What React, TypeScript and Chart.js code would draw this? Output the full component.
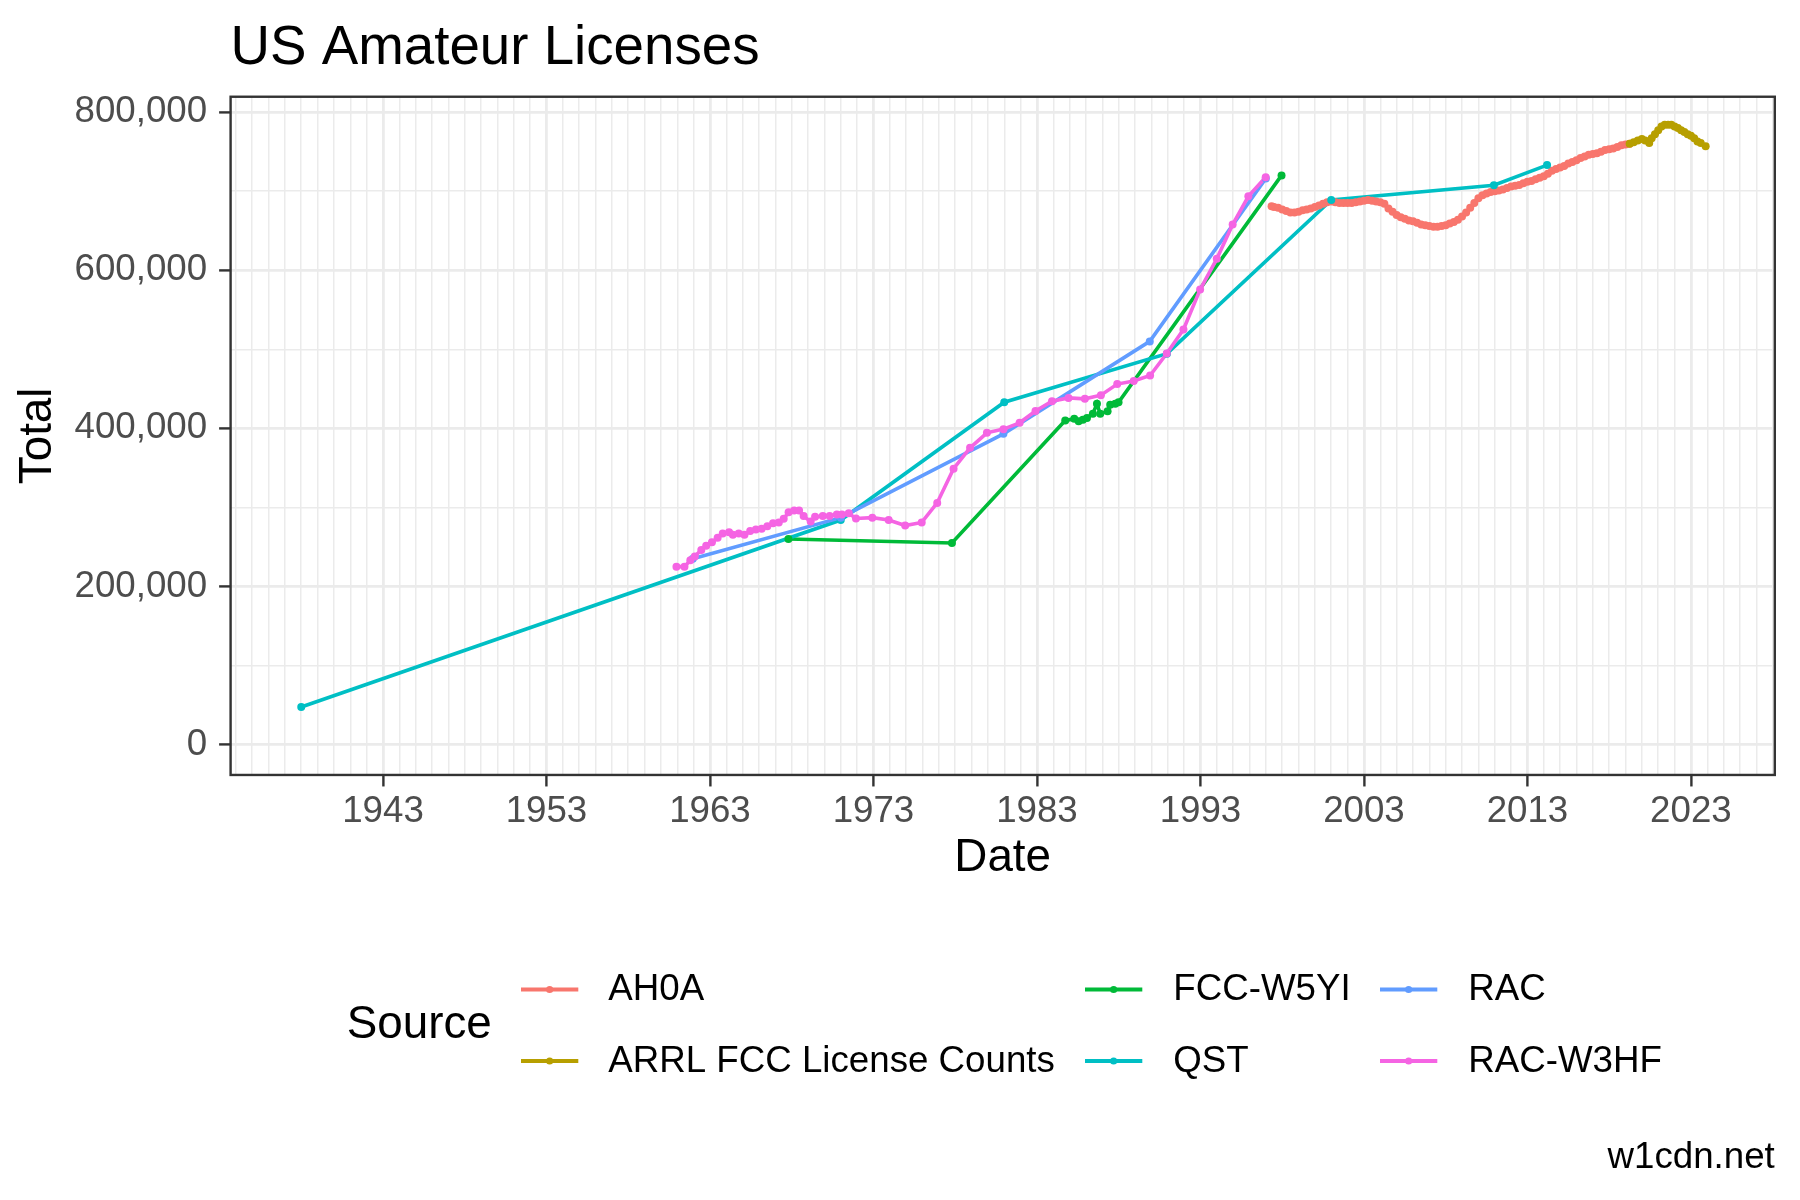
import React, { useEffect, useRef } from 'react';
import { Chart, registerables } from 'chart.js';

Chart.register(...registerables);

const FONT = '"Liberation Sans", Arial, Helvetica, sans-serif';

// ---- Series (year as decimal, total licenses) ----
const sourceNames = ['AH0A', 'ARRL FCC License Counts', 'FCC-W5YI', 'QST', 'RAC', 'RAC-W3HF'];
const sourceColors = ['#F8766D', '#B79F00', '#00BA38', '#00BFC4', '#619CFF', '#F564E3'];

const ah0aYears = [
  1997.35, 1997.5, 1997.75, 1998.0, 1998.25, 1998.5, 1998.75, 1999.0, 1999.25, 1999.5, 1999.75,
  2000.0, 2000.25, 2000.5, 2000.75, 2001.0, 2001.25, 2001.5, 2001.75, 2002.0, 2002.25, 2002.5, 2002.75,
  2003.0, 2003.25, 2003.5, 2003.75, 2004.0, 2004.25, 2004.5, 2004.75, 2005.0, 2005.25, 2005.5, 2005.75,
  2006.0, 2006.25, 2006.5, 2006.75, 2007.0, 2007.25, 2007.5, 2007.75, 2008.0, 2008.25, 2008.5, 2008.75,
  2009.0, 2009.25, 2009.5, 2009.75, 2010.0, 2010.25, 2010.5, 2010.75, 2011.0, 2011.25, 2011.5, 2011.75,
  2012.0, 2012.25, 2012.5, 2012.75, 2013.0, 2013.25, 2013.5, 2013.75, 2014.0, 2014.25, 2014.5, 2014.75,
  2015.0, 2015.25, 2015.5, 2015.75, 2016.0, 2016.25, 2016.5, 2016.75, 2017.0, 2017.25, 2017.5, 2017.75,
  2018.0, 2018.25, 2018.5, 2018.75, 2019.0, 2019.25,
];
const ah0aTotals = [
  681000, 680000, 679000, 677000, 675000, 673000, 673000, 674000, 676000, 677000, 678000,
  680000, 682000, 684000, 686000, 687000, 686000, 685000, 685000, 685000, 685000, 686000, 687000,
  688000, 689000, 688000, 687000, 686000, 684000, 678000, 674000, 670000, 667000, 665000, 663000,
  662000, 660000, 658000, 657000, 656000, 655000, 655000, 656000, 657000, 659000, 661000, 664000,
  668000, 673000, 679000, 685000, 691000, 695000, 697000, 699000, 700000, 701000, 702000, 704000,
  706000, 707000, 708000, 710000, 712000, 713000, 715000, 717000, 719000, 722000, 726000, 728000,
  730000, 732000, 735000, 737000, 739000, 742000, 744000, 746000, 747000, 748000, 750000, 752000,
  753000, 754000, 756000, 758000, 759000, 760000,
];

const arrlYears = [
  2019.25, 2019.5, 2019.75, 2020.0, 2020.2, 2020.45, 2020.6, 2020.8, 2021.0, 2021.2, 2021.4, 2021.6,
  2021.8, 2022.0, 2022.2, 2022.4, 2022.6, 2022.8, 2023.0, 2023.2, 2023.4, 2023.6, 2023.9,
];
const arrlTotals = [
  760000, 762000, 764000, 766000, 764000, 761000, 767000, 772000, 777000, 782000, 784000, 784000,
  784000, 782000, 780000, 777000, 775000, 772000, 770000, 767000, 763000, 761000, 757000,
];

const fccYears = [
  1967.8, 1977.8, 1984.73, 1985.28, 1985.55, 1985.81, 1986.06, 1986.42, 1986.67, 1986.87,
  1987.32, 1987.48, 1987.79, 1987.99, 1997.96,
];
const fccTotals = [
  260000, 255000, 410000, 412000, 409000, 411000, 413000, 418500, 431000, 418500,
  421500, 430000, 431000, 433000, 720000,
];

const qstYears = [1938.0, 1971.0, 1981.0, 1990.95, 2001.0, 2010.95, 2014.2];
const qstTotals = [47500, 284000, 433000, 494500, 689000, 707500, 733000];

const racYears = [1961.95, 1971.0, 1980.95, 1989.9, 1997.0];
const racTotals = [235000, 287000, 393000, 510000, 716000];

const w3hfYears = [
  1960.95, 1961.44, 1961.8, 1962.07, 1962.47, 1962.77, 1963.12, 1963.47, 1963.78, 1964.17,
  1964.4, 1964.76, 1965.11, 1965.46, 1965.81, 1966.16, 1966.51, 1966.86, 1967.21, 1967.51,
  1967.81, 1968.15, 1968.45, 1968.73, 1969.16, 1969.43, 1969.9, 1970.32, 1970.76, 1971.07,
  1971.49, 1971.93, 1972.93, 1973.93, 1974.94, 1975.95, 1976.9, 1977.9, 1978.91, 1979.94,
  1980.95, 1981.94, 1982.91, 1983.92, 1984.93, 1985.93, 1986.91, 1987.91, 1988.92, 1989.92,
  1990.94, 1991.96, 1992.98, 1994.0, 1994.97, 1995.93, 1996.99,
];
const w3hfTotals = [
  225000, 225000, 233000, 238000, 246000, 251500, 256000, 261500, 267000, 268500,
  265500, 267000, 265500, 270000, 272000, 273000, 276000, 280000, 281000, 285500,
  294000, 296000, 296000, 289000, 282000, 288000, 289000, 289000, 291000, 291000,
  292500, 286000, 287000, 284000, 277000, 281000, 305700, 349000, 375300, 394300,
  399000, 407000, 422000, 434300, 438500, 437300, 442000, 456000, 460000, 466800,
  494600, 525000, 575600, 614400, 657800, 693600, 717600,
];

const seriesYears = [ah0aYears, arrlYears, fccYears, qstYears, racYears, w3hfYears];
const seriesTotals = [ah0aTotals, arrlTotals, fccTotals, qstTotals, racTotals, w3hfTotals];

// ---- Axes ----
const xMajorYears = [1943, 1953, 1963, 1973, 1983, 1993, 2003, 2013, 2023];
const xTickLabels = ['1943', '1953', '1963', '1973', '1983', '1993', '2003', '2013', '2023'];
const yGridValues = [0, 100000, 200000, 300000, 400000, 500000, 600000, 700000, 800000];
const yMajorValues = [0, 200000, 400000, 600000, 800000];
const yTickLabels = ['0', '200,000', '400,000', '600,000', '800,000'];

const X_MIN = 1933.68;
const X_MAX = 2028.13;
const Y_MIN = -38500;
const Y_MAX = 819500;

const LINE_W = 3.6;
const POINT_R = 4;
const GRID_MAJOR_W = 2.8;
const GRID_MINOR_W = 1.5;
const GRID_COLOR = '#EBEBEB';

// legend layout: column-major, 2 rows x 3 columns
const legendOrder = [0, 1, 2, 3, 4, 5];
const legendCols = [
  { k0: 521, k1: 578.3, tx: 608.3 },
  { k0: 1085, k1: 1142.3, tx: 1173.3 },
  { k0: 1380, k1: 1437.3, tx: 1468.3 },
];
const legendRows = [989.5, 1061];

function isMajorX(v: number | undefined) {
  return v !== undefined && xMajorYears.indexOf(v) >= 0;
}
function isMajorY(v: number | undefined) {
  return v !== undefined && yMajorValues.indexOf(v) >= 0;
}

const overlayPlugin = {
  id: 'ggOverlay',
  afterDatasetsDraw(chart: any) {
    const { ctx, chartArea: a } = chart;
    ctx.save();
    ctx.strokeStyle = '#333333';
    ctx.lineWidth = 2.4;
    ctx.strokeRect(a.left, a.top, a.right - a.left, a.bottom - a.top);
    ctx.restore();
  },
  afterDraw(chart: any) {
    const { ctx } = chart;
    ctx.save();
    ctx.fillStyle = '#000000';
    ctx.textBaseline = 'middle';
    ctx.textAlign = 'left';
    ctx.font = `45.8px ${FONT}`;
    ctx.fillText('Source', 346.7, 1025);
    ctx.font = `36.7px ${FONT}`;
    legendOrder.forEach((si, i) => {
      const col = legendCols[Math.floor(i / 2)];
      const y = legendRows[i % 2];
      ctx.strokeStyle = sourceColors[si];
      ctx.lineWidth = LINE_W + 0.4;
      ctx.beginPath();
      ctx.moveTo(col.k0, y);
      ctx.lineTo(col.k1, y);
      ctx.stroke();
      ctx.fillStyle = sourceColors[si];
      ctx.beginPath();
      ctx.arc((col.k0 + col.k1) / 2, y, 3.6, 0, Math.PI * 2);
      ctx.fill();
      ctx.fillStyle = '#000000';
      ctx.fillText(sourceNames[si], col.tx, y + 0.5);
    });
    ctx.restore();
  },
};

export default function App() {
  const canvasRef = useRef<HTMLCanvasElement | null>(null);

  useEffect(() => {
    const canvas = canvasRef.current;
    if (!canvas) return;

    const datasets: any[] = [];
    const n = sourceNames.length;
    // lines (below all points)
    for (let i = 0; i < n; i++) {
      datasets.push({
        label: sourceNames[i],
        data: seriesYears[i].map((yr, j) => ({ x: yr, y: seriesTotals[i][j] })),
        borderColor: sourceColors[i],
        backgroundColor: sourceColors[i],
        borderWidth: LINE_W,
        pointRadius: 0,
        showLine: true,
        fill: false,
        tension: 0,
        order: 2 * n - 1 - i,
      });
    }
    // points
    for (let i = 0; i < n; i++) {
      datasets.push({
        label: sourceNames[i] + ' points',
        data: seriesYears[i].map((yr, j) => ({ x: yr, y: seriesTotals[i][j] })),
        borderColor: sourceColors[i],
        backgroundColor: sourceColors[i],
        pointBackgroundColor: sourceColors[i],
        pointBorderWidth: 0,
        pointRadius: POINT_R,
        showLine: false,
        order: n - 1 - i,
      });
    }

    const minorYears: number[] = [];
    for (let yr = Math.ceil(X_MIN); yr <= Math.floor(X_MAX); yr++) minorYears.push(yr);

    const chart = new Chart(canvas, {
      type: 'scatter',
      data: { datasets },
      plugins: [overlayPlugin],
      options: {
        responsive: false,
        animation: false,
        devicePixelRatio: 1,
        events: [],
        layout: { padding: { top: 0, left: 0, right: 25.2, bottom: 0 } },
        elements: { line: { tension: 0 } },
        plugins: {
          legend: { display: false },
          tooltip: { enabled: false },
          title: {
            display: true,
            text: 'US Amateur Licenses',
            align: 'start',
            fullSize: false,
            color: '#000000',
            font: { family: FONT, size: 54.7, weight: 'normal', lineHeight: 1.2 },
            padding: { top: 15.6, bottom: 15.5 },
          },
          subtitle: {
            display: true,
            text: 'w1cdn.net',
            position: 'bottom',
            align: 'end',
            color: '#000000',
            font: { family: FONT, size: 36.7, weight: 'normal', lineHeight: 1.2 },
            padding: { top: 0, bottom: 19.7 },
          },
        },
        scales: {
          x: {
            type: 'linear',
            position: 'bottom',
            min: X_MIN,
            max: X_MAX,
            bounds: 'data',
            afterBuildTicks: (s: any) => {
              s.ticks = minorYears.map((v) => ({ value: v }));
            },
            afterFit: (s: any) => {
              s.height = 361.3;
            },
            border: { display: false },
            grid: {
              color: GRID_COLOR,
              lineWidth: (ctx: any) => (isMajorX(ctx.tick && ctx.tick.value) ? GRID_MAJOR_W : GRID_MINOR_W),
              tickColor: (ctx: any) => (isMajorX(ctx.tick && ctx.tick.value) ? '#333333' : 'rgba(0,0,0,0)'),
              tickWidth: 2.4,
              tickLength: 11.5,
              drawTicks: true,
            },
            ticks: {
              autoSkip: false,
              maxRotation: 0,
              minRotation: 0,
              padding: 3.2,
              color: '#4D4D4D',
              font: { family: FONT, size: 36.7, lineHeight: 1.2 },
              callback: (v: any) => {
                const idx = xMajorYears.indexOf(Number(v));
                return idx >= 0 ? xTickLabels[idx] : '';
              },
            },
            title: {
              display: true,
              text: 'Date',
              color: '#000000',
              font: { family: FONT, size: 45.8, lineHeight: 1.2 },
              padding: { top: 0, bottom: 250.1 },
            },
          },
          y: {
            type: 'linear',
            position: 'left',
            min: Y_MIN,
            max: Y_MAX,
            bounds: 'data',
            afterBuildTicks: (s: any) => {
              s.ticks = yGridValues.map((v) => ({ value: v }));
            },
            afterFit: (s: any) => {
              s.width = 230.6;
            },
            border: { display: false },
            grid: {
              color: GRID_COLOR,
              lineWidth: (ctx: any) => (isMajorY(ctx.tick && ctx.tick.value) ? GRID_MAJOR_W : GRID_MINOR_W),
              tickColor: (ctx: any) => (isMajorY(ctx.tick && ctx.tick.value) ? '#333333' : 'rgba(0,0,0,0)'),
              tickWidth: 2.4,
              tickLength: 11.5,
              drawTicks: true,
            },
            ticks: {
              autoSkip: false,
              padding: 12,
              color: '#4D4D4D',
              font: { family: FONT, size: 36.7, lineHeight: 1.2 },
              callback: (v: any) => {
                const idx = yMajorValues.indexOf(Number(v));
                return idx >= 0 ? yTickLabels[idx] : '';
              },
            },
            title: {
              display: true,
              text: 'Total',
              color: '#000000',
              font: { family: FONT, size: 45.8, lineHeight: 1.2 },
              padding: { top: 11.2, bottom: 0 },
            },
          },
        },
      } as any,
    });

    return () => {
      chart.destroy();
    };
  }, []);

  return (
    <div style={{ position: 'absolute', left: 0, top: 0, width: 1800, height: 1200, background: '#ffffff' }}>
      <canvas ref={canvasRef} width={1800} height={1200} style={{ width: 1800, height: 1200, display: 'block' }} />
    </div>
  );
}
